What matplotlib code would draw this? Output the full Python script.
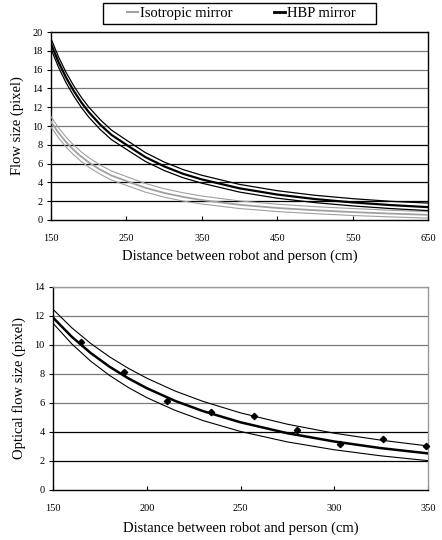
import matplotlib
matplotlib.use("Agg")
import matplotlib.pyplot as plt
from matplotlib.lines import Line2D
from matplotlib.patches import Rectangle

plt.rcParams['font.family'] = ['Liberation Serif', 'DejaVu Serif']

# --- top chart: flow size vs distance (fitted curves, upper / mid / lower)
dist_top = [150, 160, 170, 180, 190, 200, 215, 230, 250, 275, 300, 325, 350, 400, 450, 500, 550, 600, 650]
hbp_hi = [19.3, 17.35, 15.7, 14.3, 13.08, 12.02, 10.7, 9.58, 8.5, 7.18, 6.17, 5.37, 4.76, 3.79, 3.12, 2.63, 2.27, 1.99, 1.8]
hbp_mid = [18.75, 16.8, 15.15, 13.76, 12.54, 11.49, 10.17, 9.07, 8.0, 6.7, 5.71, 4.92, 4.32, 3.37, 2.71, 2.23, 1.87, 1.59, 1.37]
hbp_lo = [18.2, 16.25, 14.6, 13.22, 12.0, 10.96, 9.65, 8.56, 7.52, 6.24, 5.27, 4.5, 3.92, 2.97, 2.32, 1.85, 1.5, 1.22, 1.0]
iso_hi = [11.0, 9.82, 8.82, 7.98, 7.26, 6.64, 5.86, 5.22, 4.62, 3.89, 3.33, 2.9, 2.55, 2.03, 1.68, 1.42, 1.22, 1.04, 0.89]
iso_mid = [10.45, 9.28, 8.29, 7.46, 6.75, 6.14, 5.37, 4.74, 4.15, 3.43, 2.88, 2.46, 2.12, 1.62, 1.28, 1.04, 0.84, 0.68, 0.55]
iso_lo = [9.9, 8.74, 7.76, 6.94, 6.24, 5.64, 4.88, 4.26, 3.68, 2.97, 2.43, 2.02, 1.7, 1.22, 0.9, 0.67, 0.48, 0.33, 0.2]

# --- bottom chart: measured optical flow + fit band
dist_bot = [150, 160, 170, 180, 190, 200, 215, 230, 250, 275, 300, 325, 350]
fit_hi = [12.44, 11.17, 10.1, 9.18, 8.39, 7.7, 6.82, 6.1, 5.31, 4.53, 3.91, 3.43, 3.03]
fit_mid = [11.87, 10.55, 9.44, 8.5, 7.7, 7.01, 6.14, 5.43, 4.66, 3.91, 3.34, 2.88, 2.52]
fit_lo = [11.48, 10.06, 8.88, 7.9, 7.07, 6.36, 5.49, 4.78, 4.03, 3.31, 2.77, 2.35, 2.02]
meas_x = [165, 188, 211, 234, 257, 280, 303, 326, 349]
meas_y = [10.2, 8.1, 6.1, 5.4, 5.1, 4.15, 3.2, 3.5, 3.0]

GRAY = '#a0a0a0'

fig = plt.figure(figsize=(4.42, 5.40), dpi=100)

def style_axes(ax, gray_from, frame_col):
    for s in ['left', 'bottom']:
        ax.spines[s].set_color('black')
        ax.spines[s].set_linewidth(1.0)
    for s in ['top', 'right']:
        ax.spines[s].set_color(frame_col)
        ax.spines[s].set_linewidth(1.0)
    for y in ax.get_yticks()[1:]:
        col = '#7a7a7a' if y >= gray_from else 'black'
        ax.axhline(y, color=col, lw=0.9, zorder=1)
    ax.tick_params(axis='x', direction='in', length=3, width=0.8, labelsize=7.5, pad=10)
    ax.tick_params(axis='y', direction='out', length=3, width=0.8, labelsize=7.5, pad=3)

# top chart
ax1 = fig.add_axes([0.1154, 0.5926, 0.853, 0.348])
ax1.set_xlim(150, 650)
ax1.set_ylim(0, 20)
ax1.set_xticks(range(150, 651, 100))
ax1.set_yticks(range(0, 21, 2))
style_axes(ax1, 10, 'black')
for ys, w in [(iso_hi, 0.8), (iso_mid, 1.3), (iso_lo, 0.8)]:
    ax1.plot(dist_top, ys, color=GRAY, lw=w, zorder=3)
for ys, w in [(hbp_hi, 0.9), (hbp_mid, 1.6), (hbp_lo, 0.9)]:
    ax1.plot(dist_top, ys, color='black', lw=w, zorder=4)
ax1.set_xlabel('Distance between robot and person (cm)', fontsize=10.5, labelpad=5)
ax1.set_ylabel('Flow size (pixel)', fontsize=10.5, labelpad=6)

# legend: frameless entries inside a hand-placed box
W, H = 442.0, 540.0
fig.patches.append(Rectangle((103 / W, 1 - 24 / H), 273 / W, 21 / H, transform=fig.transFigure,
                             fill=False, edgecolor='black', lw=1.0))
handles = [Line2D([], [], color=GRAY, lw=1.5), Line2D([], [], color='black', lw=2)]
fig.legend(handles, ['Isotropic mirror', 'HBP mirror'], loc='center',
           bbox_to_anchor=(0.546, 1 - 13.5 / H), ncol=2, fontsize=10.5,
           frameon=False, handlelength=0.75, handletextpad=0.15, columnspacing=2.85,
           borderpad=0, borderaxespad=0)

# bottom chart
ax2 = fig.add_axes([0.12, 0.0926, 0.8484, 0.3765])
ax2.set_xlim(150, 350)
ax2.set_ylim(0, 14)
ax2.set_xticks(range(150, 351, 50))
ax2.set_yticks(range(0, 15, 2))
style_axes(ax2, 6, '#9a9a9a')
ax2.plot(dist_bot, fit_hi, color='black', lw=0.8, zorder=3)
ax2.plot(dist_bot, fit_lo, color='black', lw=0.8, zorder=3)
ax2.plot(dist_bot, fit_mid, color='black', lw=1.8, zorder=4)
ax2.plot(meas_x, meas_y, linestyle='none', marker='D', ms=3.2, color='black', zorder=5, clip_on=False)
ax2.set_xlabel('Distance between robot and person (cm)', fontsize=10.5, labelpad=6)
ax2.set_ylabel('Optical flow size (pixel)', fontsize=10.5, labelpad=6)

fig.savefig('out.png', dpi=100)
